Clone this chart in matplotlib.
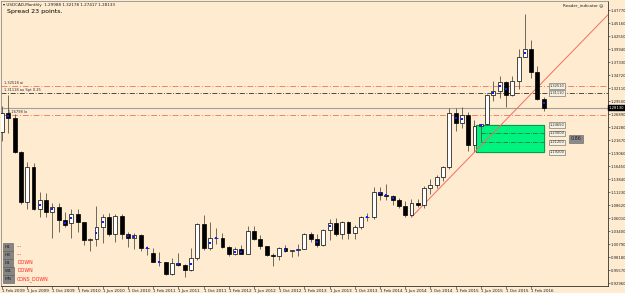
import matplotlib
matplotlib.use('Agg')
import matplotlib.pyplot as plt
import numpy as np

# ---------------------------------------------
# USDCAD monthly candles, 1 Feb 2009 .. 1 Apr 2016
opens = [1.2330, 1.2710, 1.2600, 1.1925, 1.0930, 1.1630, 1.0775, 1.0960, 1.0720, 1.0830, 1.0560,
         1.0500, 1.0690, 1.0520, 1.0160, 1.0170, 1.0420, 1.0620, 1.0280, 1.0640, 1.0280, 1.0200, 1.0250,
         0.9990, 0.9900, 0.9720, 0.9710, 0.9480, 0.9690, 0.9650, 0.9560, 0.9800, 1.0480, 0.9990, 1.0200,
         1.0190, 1.0020, 0.9880, 0.9970, 0.9880, 1.0340, 1.0180, 1.0030, 0.9860, 0.9830, 0.9990, 0.9930,
         0.9950, 0.9980, 1.0290, 1.0170, 1.0060, 1.0360, 1.0510, 1.0270, 1.0530, 1.0300, 1.0420, 1.0620,
         1.0630, 1.1120, 1.1070, 1.1050, 1.0960, 1.0850, 1.0670, 1.0900, 1.0870, 1.1200, 1.1270, 1.1420,
         1.1620, 1.2700, 1.2500, 1.2670, 1.2070, 1.2440, 1.2490, 1.3070, 1.3160, 1.3330, 1.3070, 1.3350,
         1.3840, 1.3990, 1.3530, 1.2999]
highs = [1.2850, 1.3065, 1.2680, 1.1950, 1.1725, 1.1700, 1.1120, 1.1100, 1.0900, 1.0900, 1.0730,
         1.0780, 1.0780, 1.0530, 1.0190, 1.0850, 1.0680, 1.0700, 1.0680, 1.0680, 1.0320, 1.0300, 1.0270,
         1.0030, 1.0000, 0.9910, 0.9720, 0.9800, 0.9900, 0.9670, 0.9990, 1.0500, 1.0660, 1.0520, 1.0400,
         1.0300, 1.0030, 1.0010, 1.0050, 1.0440, 1.0440, 1.0250, 1.0040, 0.9890, 1.0010, 1.0050, 0.9960,
         1.0070, 1.0300, 1.0330, 1.0290, 1.0380, 1.0590, 1.0600, 1.0540, 1.0540, 1.0460, 1.0640, 1.0700,
         1.1220, 1.1220, 1.1280, 1.1060, 1.1000, 1.0950, 1.0990, 1.0990, 1.1240, 1.1380, 1.1470, 1.1640,
         1.2800, 1.2800, 1.2830, 1.2730, 1.2560, 1.2480, 1.3100, 1.3350, 1.3460, 1.3350, 1.3450, 1.4000,
         1.4690, 1.4170, 1.3650, 1.3040]
lows = [1.2150, 1.2300, 1.1900, 1.0880, 1.0780, 1.0760, 1.0630, 1.0630, 1.0205, 1.0330, 1.0420,
        1.0200, 1.0330, 1.0060, 0.9930, 1.0030, 1.0100, 1.0230, 1.0110, 1.0180, 1.0020, 0.9970, 0.9930,
        0.9850, 0.9710, 0.9630, 0.9450, 0.9450, 0.9640, 0.9410, 0.9540, 0.9750, 0.9960, 0.9950, 1.0070,
        0.9990, 0.9840, 0.9850, 0.9870, 0.9870, 1.0150, 0.9980, 0.9840, 0.9630, 0.9760, 0.9920, 0.9820,
        0.9840, 0.9970, 1.0120, 1.0010, 1.0030, 1.0150, 1.0240, 1.0180, 1.0180, 1.0180, 1.0380, 1.0550,
        1.0590, 1.0960, 1.0960, 1.0860, 1.0810, 1.0620, 1.0620, 1.0820, 1.0810, 1.1080, 1.1200, 1.1340,
        1.1580, 1.2350, 1.2400, 1.1950, 1.1920, 1.2130, 1.2470, 1.2950, 1.3010, 1.2830, 1.3050, 1.3200,
        1.3830, 1.3420, 1.2970, 1.2742]
closes = [1.2710, 1.2600, 1.1925, 1.0930, 1.1630, 1.0775, 1.0960, 1.0720, 1.0830, 1.0560, 1.0460,
          1.0690, 1.0520, 1.0160, 1.0170, 1.0420, 1.0620, 1.0280, 1.0640, 1.0280, 1.0200, 1.0250, 0.9990,
          1.0000, 0.9720, 0.9710, 0.9480, 0.9690, 0.9650, 0.9560, 0.9800, 1.0480, 0.9990, 1.0200, 1.0190,
          1.0020, 0.9880, 0.9970, 0.9880, 1.0340, 1.0180, 1.0030, 0.9860, 0.9830, 0.9990, 0.9930, 0.9950,
          0.9980, 1.0290, 1.0170, 1.0060, 1.0360, 1.0510, 1.0270, 1.0530, 1.0300, 1.0420, 1.0620, 1.0630,
          1.1120, 1.1070, 1.1050, 1.0960, 1.0850, 1.0670, 1.0900, 1.0870, 1.1200, 1.1270, 1.1420, 1.1620,
          1.2700, 1.2500, 1.2670, 1.2070, 1.2440, 1.2490, 1.3070, 1.3160, 1.3330, 1.3070, 1.3350, 1.3840,
          1.3990, 1.3530, 1.2990, 1.2813]

# candles carrying the small blue marker
dot_idx = [1, 6, 8, 10, 11, 15, 16, 20, 21, 23, 25, 28, 30, 33, 34, 37, 38, 45, 47, 50, 52,
           58, 60, 61, 62, 72, 73, 76, 78, 79, 80, 83, 86]

tick_idx = list(range(0, 85, 4))
tick_labels = ['1 Feb 2009', '1 Jun 2009', '1 Oct 2009', '1 Feb 2010', '1 Jun 2010', '1 Oct 2010',
               '1 Feb 2011', '1 Jun 2011', '1 Oct 2011', '1 Feb 2012', '1 Jun 2012', '1 Oct 2012',
               '1 Feb 2013', '1 Jun 2013', '1 Oct 2013', '1 Feb 2014', '1 Jun 2014', '1 Oct 2014',
               '1 Feb 2015', '1 Jun 2015', '1 Oct 2015', '1 Feb 2016']

price_ticks = ['1.47770', '1.45160', '1.42550', '1.39940', '1.37330', '1.34720', '1.32110', '1.29500',
               '1.26890', '1.24280', '1.21670', '1.19060', '1.16450', '1.13840', '1.11230', '1.08620',
               '1.06010', '1.03400', '1.00790', '0.98180', '0.95570', '0.92960']

# horizontal levels
level_hi = 1.3251      # red
level_mid = 1.3111     # black
level_lo = 1.2679      # red
bid = 1.2813

# zone
zone_x = [75.3, 86.0]
zone_top, zone_bot = 1.2465, 1.1920
zone_l1, zone_l2 = 1.2300, 1.2120

trend_x = [65, 96.2]
trend_y = [1.0620, 1.4682]

# ---------------------------------------------
bg = '#FEEBD0'
fig = plt.figure(figsize=(6.25, 2.93), dpi=100, facecolor=bg)
ax = fig.add_axes([1/625, 7.5/293, 607/625, 284.5/293], facecolor=bg)

x = np.arange(len(opens))
o = np.array(opens); c = np.array(closes)
up = c >= o
bot = np.minimum(o, c)
h = np.maximum(np.abs(c - o), 0.0008)

# zone behind candles
ax.fill_between(zone_x, zone_bot, zone_top, color='#00F27F', zorder=1)
ax.plot([zone_x[0], zone_x[1], zone_x[1], zone_x[0], zone_x[0]],
        [zone_bot, zone_bot, zone_top, zone_top, zone_bot], color='#208040', lw=0.6, zorder=1)
ax.hlines([zone_l1, zone_l2], 76, zone_x[1], colors='#206030', lw=0.5, linestyles='-.', zorder=1)

ax.axhline(level_hi, color='#F08070', lw=0.7, ls=(0, (6, 2, 1, 2)), zorder=1)
ax.axhline(level_mid, color='#303030', lw=0.6, ls=(0, (6, 2, 1, 2)), zorder=1)
ax.axhline(level_lo, color='#F08070', lw=0.7, ls=(0, (6, 2, 1, 2)), zorder=1)
ax.axhline(bid, color='#A0A0A0', lw=0.8, zorder=1)

ax.vlines(x, lows, highs, colors='#555545', lw=0.6, zorder=2)
ax.bar(x, h, bottom=bot, width=0.62, color=np.where(up, 'white', 'black'),
       edgecolor='black', linewidth=0.5, zorder=3)
ax.scatter(x[dot_idx], bot[dot_idx] + h[dot_idx] / 2, s=0.6, color='#1020FF', marker='s', lw=0, zorder=4)

ax.plot(trend_x, trend_y, color='#F07060', lw=0.7, zorder=2)

ax.set_xlim(-0.16, 96.2)
ax.set_ylim(0.9246, 1.4958)

ax.set_xticks(tick_idx)
ax.set_xticklabels(tick_labels, fontsize=3, ha='left')
ax.tick_params(axis='x', length=2, width=0.4, pad=0.5, colors='#202020')
ax.yaxis.tick_right()
ax.set_yticks([float(t) for t in price_ticks])
ax.set_yticklabels(price_ticks, fontsize=2.7)
ax.tick_params(axis='y', length=1.5, width=0.4, pad=0.4, colors='#202020')
for s in ['left', 'top']:
    ax.spines[s].set_color('#909090')
    ax.spines[s].set_linewidth(0.6)
for s in ['right', 'bottom']:
    ax.spines[s].set_color('#303030')
    ax.spines[s].set_linewidth(0.6)

# bid label on the price scale
ax.text(1.001, bid, f'{bid:.5f}', transform=ax.get_yaxis_transform(), fontsize=2.7, color='white',
        va='center', ha='left', bbox=dict(boxstyle='square,pad=0.15', fc='black', ec='black'))

# level labels left
ax.text(0.3, level_hi + 0.002, f'{level_hi:.4f}8 ai', fontsize=2.6, va='bottom', color='#303030')
ax.text(0.3, level_mid + 0.002, f'{level_mid:.4f}8 au Spt 0.25', fontsize=2.6, va='bottom', color='#303030')
ax.text(1.0, level_lo + 0.001, f'{level_lo:.4f}8 lo', fontsize=2.6, va='bottom', color='#303030')

# right-hand price boxes
box = dict(boxstyle='square,pad=0.2', fc='#F5F0E0', ec='#606060', lw=0.4)
for p in [level_hi, level_mid, zone_top, zone_l1, zone_l2, zone_bot]:
    ax.text(86.9, p, f'{p:.5f}', fontsize=2.6, va='center', ha='left', color='#303030', bbox=box)
ax.text(90.3, 1.2190, '0.86', fontsize=3.5, va='center', ha='left', color='#202020',
        bbox=dict(boxstyle='square,pad=0.3', fc='#8A8A8A', ec='#606060', lw=0.4))

# header texts
fig.text(3/625, 1 - 5/293, '\u25be USDCAD,Monthly  1.29988 1.32178 1.27417 1.28133', fontsize=3,
         va='center', color='#202020')
fig.text(7/625, 1 - 11.5/293, 'Spread 23 points.', fontsize=4.5, va='center', color='black')
fig.text(603/625, 1 - 5/293, 'Reader_indicator \u263a', fontsize=3, va='center', ha='right', color='#202020')

# timeframe panel
tfs = ['H1', 'H4', 'D1', 'W1', 'MN']
tf_state = ['---', '---', 'DOWN', 'DOWN', 'CONS_DOWN']
for k, (tf, st) in enumerate(zip(tfs, tf_state)):
    yy = 1 - (247 + k * 8) / 293
    fig.text(5/625, yy, tf, fontsize=3.2, va='center', color='#202020',
             bbox=dict(boxstyle='square,pad=0.35', fc='#858585', ec='#5a5a5a', lw=0.4))
    fig.text(17/625, yy, st, fontsize=3.4, va='center', color='#FF2020')

plt.savefig('out.png', dpi=100, facecolor=bg)
